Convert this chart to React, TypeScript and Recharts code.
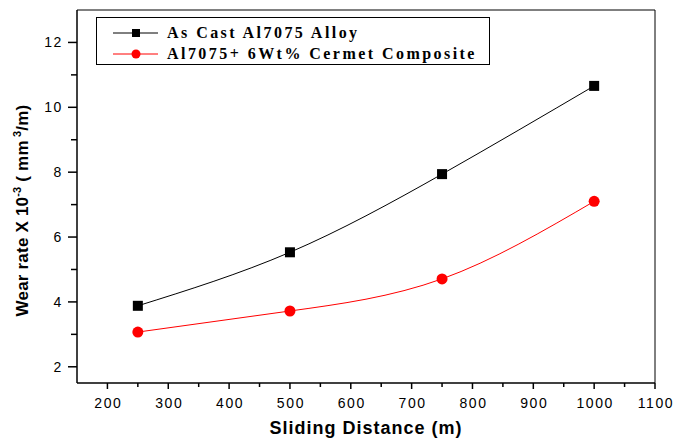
import React from "react";
import { LineChart, Line, XAxis, YAxis, ReferenceLine } from "recharts";

// sliding distance (m)
const distances = [250, 500, 750, 1000];
// wear rate x 10^-3
const asCast = [3.88, 5.53, 7.94, 10.66];
const cermet = [3.07, 3.72, 4.71, 7.1];

const xTicks = [200, 250, 300, 350, 400, 450, 500, 550, 600, 650, 700, 750, 800, 850, 900, 950, 1000, 1050, 1100];
const yTicks = [2, 3, 4, 5, 6, 7, 8, 9, 10, 11, 12];

const seriesNames = ["As Cast Al7075 Alloy", "Al7075+ 6Wt% Cermet Composite"];

const data = distances.map((d, i) => ({ d, a: asCast[i], c: cermet[i] }));

const tickFont = { fontFamily: "Arial, 'Liberation Sans', sans-serif", fontSize: 14, letterSpacing: 1.6 };

const XTick = (props: any) => {
  const { x, y, payload } = props;
  const major = payload.value % 100 === 0;
  return (
    <g>
      <line x1={x} x2={x} y1={y} y2={y + (major ? 6 : 4)} stroke="#000" strokeWidth={1.5} />
      {major && (
        <text x={x + 1} y={y + 25} textAnchor="middle" fill="#000" style={tickFont}>
          {payload.value}
        </text>
      )}
    </g>
  );
};

const YTick = (props: any) => {
  const { x, y, payload } = props;
  const major = payload.value % 2 === 0;
  return (
    <g>
      <line x1={x} x2={x - (major ? 9 : 6)} y1={y} y2={y} stroke="#000" strokeWidth={1.5} />
      {major && (
        <text x={x - 14} y={y + 5} textAnchor="end" fill="#000" style={tickFont}>
          {payload.value}
        </text>
      )}
    </g>
  );
};

const SquareDot = (props: any) => {
  const { cx, cy } = props;
  if (cx == null || cy == null) return null;
  return <rect x={cx - 5} y={cy - 5} width={10} height={10} fill="#000" />;
};

const CircleDot = (props: any) => {
  const { cx, cy } = props;
  if (cx == null || cy == null) return null;
  return <circle cx={cx} cy={cy} r={5.5} fill="#ff0000" />;
};

const LegendBox = () => (
  <div
    style={{
      position: "absolute",
      left: 96,
      top: 17,
      border: "1px solid #000",
      width: 394,
      height: 48,
      boxSizing: "border-box",
      background: "#fff",
      fontFamily: "'Liberation Serif', 'Times New Roman', serif",
      fontWeight: "bold",
      fontSize: 16,
      letterSpacing: 2.45,
      color: "#000",
    }}
  >
    {seriesNames.map((name, i) => (
      <div key={name} style={{ display: "flex", alignItems: "center", height: 21, marginTop: i === 0 ? 4 : 0 }}>
        <svg width={70} height={20} style={{ marginLeft: 15 }}>
          <line x1={1} x2={46} y1={10} y2={10} stroke={i === 0 ? "#000" : "#ff0000"} strokeWidth={1} />
          {i === 0 ? (
            <rect x={20} y={6} width={8} height={8} fill="#000" />
          ) : (
            <circle cx={24} cy={10} r={4.5} fill="#ff0000" />
          )}
        </svg>
        <span style={{ marginLeft: -15, lineHeight: "20px", whiteSpace: "nowrap" }}>{name}</span>
      </div>
    ))}
  </div>
);

export default function App() {
  return (
    <div style={{ position: "fixed", left: 0, top: 0, width: 673, height: 438, background: "#fff" }}>
      <LineChart width={673} height={438} data={data} margin={{ top: 10, right: 18, left: 0, bottom: 0 }}>
        <XAxis
          dataKey="d"
          type="number"
          domain={[150, 1100]}
          ticks={xTicks}
          interval={0}
          height={55}
          tickSize={0}
          tickMargin={0}
          tickLine={false}
          axisLine={{ stroke: "#000", strokeWidth: 1.5 }}
          tick={<XTick />}
          label={{
            value: "Sliding Distance (m)",
            position: "insideBottom",
            offset: 4,
            style: { fontFamily: "Arial, 'Liberation Sans', sans-serif", fontWeight: "bold", fontSize: 18, letterSpacing: 1, fill: "#000" },
          }}
        />
        <YAxis
          type="number"
          domain={[1.5, 13]}
          ticks={yTicks}
          interval={0}
          width={77}
          tickSize={0}
          tickMargin={0}
          tickLine={false}
          allowDataOverflow
          axisLine={{ stroke: "#000", strokeWidth: 1.5 }}
          tick={<YTick />}
          label={(p: any) => {
            const vb = p.viewBox;
            const cx = 28;
            const cy = vb.y + vb.height / 2 + 14;
            return (
              <text
                transform={`translate(${cx},${cy}) rotate(-90)`}
                textAnchor="middle"
                fill="#000"
                style={{ fontFamily: "Arial, 'Liberation Sans', sans-serif", fontWeight: "bold", fontSize: 17, letterSpacing: 0.2 }}
              >
                Wear rate X 10
                <tspan dy={-7} fontSize={11}>-3</tspan>
                <tspan dy={7}> ( mm</tspan>
                <tspan dy={-7} fontSize={11}> 3</tspan>
                <tspan dy={7}>/m)</tspan>
              </text>
            );
          }}
        />
        <ReferenceLine y={13} stroke="#000" strokeWidth={1} />
        <ReferenceLine x={1100} stroke="#000" strokeWidth={1} />
        <Line
          type="natural"
          dataKey="a"
          stroke="#000"
          strokeWidth={1}
          dot={<SquareDot />}
          activeDot={false}
          isAnimationActive={false}
        />
        <Line
          type="natural"
          dataKey="c"
          stroke="#ff0000"
          strokeWidth={1}
          dot={<CircleDot />}
          activeDot={false}
          isAnimationActive={false}
        />
      </LineChart>
      <LegendBox />
    </div>
  );
}
